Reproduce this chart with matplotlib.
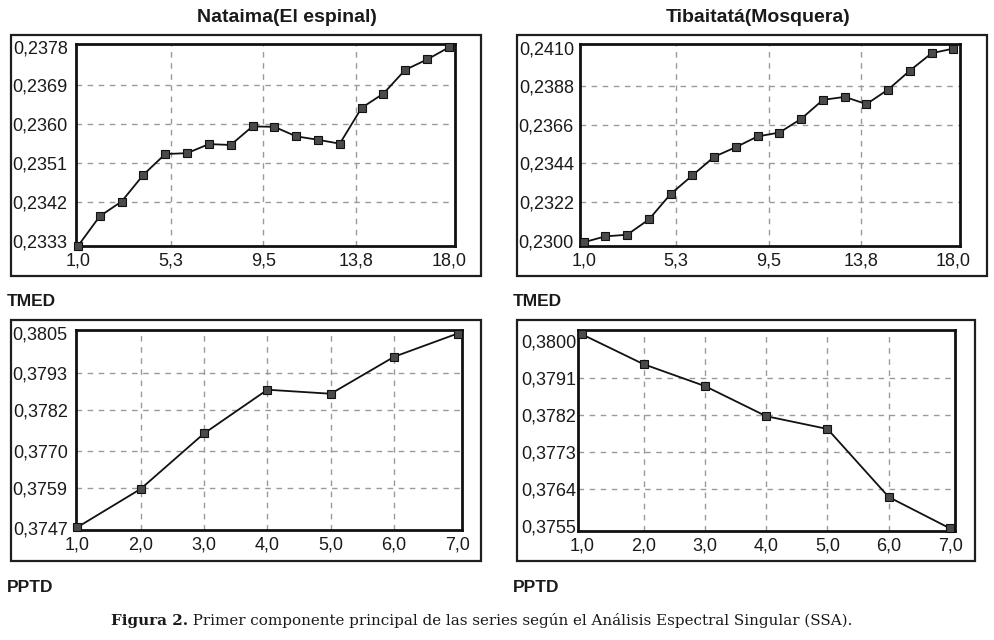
import numpy as np
import matplotlib
matplotlib.use('Agg')
import matplotlib.pyplot as plt
from matplotlib.patches import Rectangle

plt.rcParams['font.family'] = ['Liberation Sans', 'DejaVu Sans']

######## data
tmed_x = list(range(1, 19))
pptd_x = list(range(1, 8))

nataima_tmed = [0.23318, 0.23387, 0.23421, 0.23483, 0.23531, 0.23533, 0.23554, 0.23552, 0.23595,
                0.23594, 0.23572, 0.23564, 0.23555, 0.23638, 0.23671, 0.23726, 0.23750, 0.23778]
tibaitata_tmed = [0.22991, 0.23025, 0.23034, 0.23121, 0.23266, 0.23372, 0.23478, 0.23533, 0.23594,
                  0.23616, 0.23694, 0.23802, 0.23819, 0.23778, 0.23861, 0.23969, 0.24068, 0.24094]
nataima_pptd = [0.37472, 0.37586, 0.37751, 0.37881, 0.37869, 0.37979, 0.38048]
tibaitata_pptd = [0.38015, 0.37943, 0.37890, 0.37817, 0.37786, 0.37621, 0.37545]

tmed_xticks = [1.0, 5.25, 9.5, 13.75, 18.0]
tmed_xlabels = ['1,0', '5,3', '9,5', '13,8', '18,0']
pptd_xticks = [1, 2, 3, 4, 5, 6, 7]
pptd_xlabels = ['1,0', '2,0', '3,0', '4,0', '5,0', '6,0', '7,0']

nataima_tmed_yticks = [0.2333, 0.2342, 0.2351, 0.2360, 0.2369, 0.2378]
tibaitata_tmed_yticks = [0.2300, 0.2322, 0.2344, 0.2366, 0.2388, 0.2410]
nataima_pptd_yticks = [0.3747, 0.3759, 0.3770, 0.3782, 0.3793, 0.3805]
tibaitata_pptd_yticks = [0.3755, 0.3764, 0.3773, 0.3782, 0.3791, 0.3800]

titles = ['Nataima(El espinal)', 'Tibaitatá(Mosquera)']
var_labels = ['TMED', 'PPTD']
caption_bold = 'Figura 2.'
caption_rest = ' Primer componente principal de las series según el Análisis Espectral Singular (SSA).'

W, H = 994, 640
fig = plt.figure(figsize=(W/100, H/100), dpi=100)


def px_rect(x0, y0, x1, y1):
    return [x0/W, 1 - y1/H, (x1 - x0)/W, (y1 - y0)/H]


def panel(inner, outer, x, y, xticks, xlabels, yticks, xlim, ylim, ypad):
    fig.add_artist(Rectangle((outer[0]/W, 1 - outer[3]/H), (outer[2]-outer[0])/W, (outer[3]-outer[1])/H,
                             transform=fig.transFigure, fill=False, lw=1.6, ec='#1e1e1e'))
    ax = fig.add_axes(px_rect(*inner))
    for v in xticks[1:-1]:
        ax.axvline(v, color='#9a9a9a', lw=1.0, ls=(0, (4, 4)), zorder=1)
    for v in yticks[1:-1]:
        ax.axhline(v, color='#9a9a9a', lw=1.0, ls=(0, (4, 4)), zorder=1)
    ax.plot(x, y, '-', color='#111111', lw=1.3, marker='s', ms=6,
            mfc='#4a4a4a', mec='#111111', mew=0.8, zorder=3, clip_on=False)
    ax.set_xlim(*xlim)
    ax.set_ylim(*ylim)
    ax.set_xticks(xticks)
    ax.set_xticklabels(xlabels)
    ax.set_yticks(yticks)
    ax.set_yticklabels([('%.4f' % v).replace('.', ',') for v in yticks])
    ax.tick_params(length=0, labelsize=13, labelcolor='#1a1a1a')
    ax.tick_params(axis='x', pad=5)
    ax.tick_params(axis='y', pad=ypad)
    for s in ax.spines.values():
        s.set_linewidth(2.0)
        s.set_color('#111111')
    return ax


panel((76, 43.5, 455, 246), (11, 34.5, 481, 276), tmed_x, nataima_tmed, tmed_xticks, tmed_xlabels,
      nataima_tmed_yticks, (0.91, 18.28), (0.23318, 0.23787), 6)
panel((579.5, 43.5, 960, 246), (516.5, 34.5, 986.5, 276), tmed_x, tibaitata_tmed, tmed_xticks, tmed_xlabels,
      tibaitata_tmed_yticks, (0.81, 18.30), (0.22970, 0.24123), 4)
panel((76, 329.5, 462, 530), (11, 319.5, 481, 560.5), pptd_x, nataima_pptd, pptd_xticks, pptd_xlabels,
      nataima_pptd_yticks, (0.98, 7.07), (0.37464, 0.38060), 6)
panel((577.5, 329.5, 955, 530.5), (516.5, 319.5, 974.5, 560.5), pptd_x, tibaitata_pptd, pptd_xticks, pptd_xlabels,
      tibaitata_pptd_yticks, (0.923, 7.08), (0.37540, 0.38027), 1)

######## titles and labels
fig.text(287/W, 1 - 17/H, titles[0], ha='center', va='center', fontsize=14, fontweight='bold', color='#1a1a1a')
fig.text(758/W, 1 - 17/H, titles[1], ha='center', va='center', fontsize=14, fontweight='bold', color='#1a1a1a')
fig.text(7/W, 1 - 302/H, var_labels[0], ha='left', va='center', fontsize=12.5, fontweight='bold', color='#1a1a1a')
fig.text(513/W, 1 - 302/H, var_labels[0], ha='left', va='center', fontsize=12.5, fontweight='bold', color='#1a1a1a')
fig.text(7/W, 1 - 587/H, var_labels[1], ha='left', va='center', fontsize=12.5, fontweight='bold', color='#1a1a1a')
fig.text(513/W, 1 - 587/H, var_labels[1], ha='left', va='center', fontsize=12.5, fontweight='bold', color='#1a1a1a')

######## caption, bold part then regular part
cap_size = 10.9
t1 = fig.text(111/W, 1 - 621/H, caption_bold, ha='left', va='center', fontsize=cap_size,
              fontweight='bold', family='DejaVu Serif', color='#1a1a1a')
r = fig.canvas.get_renderer()
bb = t1.get_window_extent(renderer=r)
fig.text(bb.x1/W, 1 - 621/H, caption_rest, ha='left', va='center', fontsize=cap_size,
         family='DejaVu Serif', color='#1a1a1a')

fig.savefig('out.png', dpi=100)
